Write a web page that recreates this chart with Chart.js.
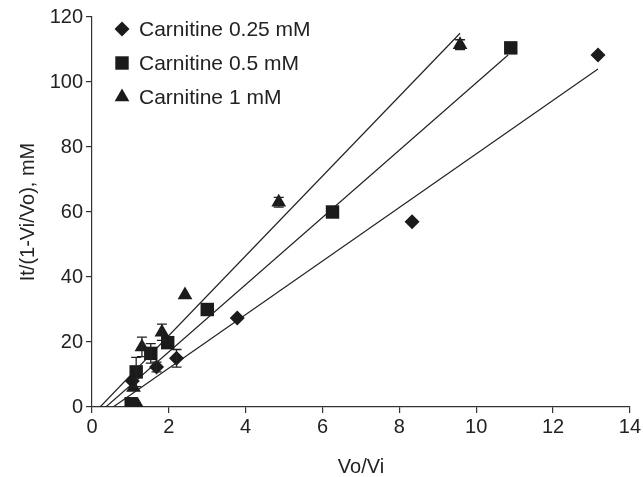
<!DOCTYPE html>
<html><head><meta charset="utf-8">
<script src="https://cdn.jsdelivr.net/npm/chart.js@4/dist/chart.umd.min.js"></script>
<style>html,body{margin:0;padding:0;background:#fff}#wrap{width:643px;height:477px}</style>
</head><body><div id="wrap"><canvas id="c" width="643" height="477"></canvas></div>
<script>
const seriesNames = ["Carnitine 0.25 mM", "Carnitine 0.5 mM", "Carnitine 1 mM"];
const diaX = [1.05, 1.68, 2.2, 3.78, 8.33, 13.17];
const diaY = [8, 12.3, 15, 27.4, 57, 108.3];
const diaErr = [0, 1.5, 2.7, 0, 0, 0];
const sqX = [1.02, 1.15, 1.53, 1.97, 3.0, 6.26, 10.9];
const sqY = [1, 10.8, 16.5, 19.8, 30, 60, 110.5];
const sqErr = [0, 4.5, 3, 0, 0, 0, 0];
const triX = [1.2, 1.08, 1.3, 1.82, 2.42, 4.86, 9.58];
const triY = [0.3, 6, 18.5, 23, 34.5, 63, 111.5];
const triErr = [0, 0, 3, 2.5, 0, 1.5, 1.5];
const fitDiaX = [0.55, 13.17], fitDiaY = [0, 104];
const fitSqX = [0.36, 10.83], fitSqY = [0, 108.3];
const fitTriX = [0.21, 9.58], fitTriY = [0, 115];
const xTicks = [0, 2, 4, 6, 8, 10, 12, 14];
const yTicks = [0, 20, 40, 60, 80, 100, 120];

const pts = (xs, ys) => xs.map((x, i) => ({x, y: ys[i]}));
const ink = '#1b1b1b';
const FONT = '"Liberation Sans", Arial, sans-serif';
const styles = [
  {pointStyle: 'rectRot', radius: 7.5},
  {pointStyle: 'rect', radius: 9.5},
  {pointStyle: 'triangle', radius: 8.5}
];
const errs = [diaErr, sqErr, triErr];

function lineDs(xs, ys) {
  return {type: 'line', data: pts(xs, ys), borderColor: '#222', borderWidth: 1.2,
    pointRadius: 0, fill: false, showLine: true, order: 5};
}
function scatDs(i, xs, ys) {
  return {type: 'scatter', label: seriesNames[i], data: pts(xs, ys),
    pointStyle: styles[i].pointStyle, pointRadius: styles[i].radius, pointHoverRadius: styles[i].radius,
    backgroundColor: ink, borderColor: ink, borderWidth: 0, errIdx: i, order: 1};
}

const errPlugin = {
  id: 'errbars',
  afterDatasetsDraw(chart) {
    const ctx = chart.ctx, xs = chart.scales.x, ys = chart.scales.y;
    ctx.save(); ctx.strokeStyle = '#222'; ctx.lineWidth = 1.3;
    chart.data.datasets.forEach(ds => {
      if (ds.errIdx === undefined) return;
      const e = errs[ds.errIdx];
      ds.data.forEach((p, j) => {
        if (!e[j]) return;
        const px = xs.getPixelForValue(p.x);
        const t = ys.getPixelForValue(p.y + e[j]), b = ys.getPixelForValue(p.y - e[j]);
        ctx.beginPath(); ctx.moveTo(px, t); ctx.lineTo(px, b);
        ctx.moveTo(px - 5, t); ctx.lineTo(px + 5, t);
        ctx.moveTo(px - 5, b); ctx.lineTo(px + 5, b); ctx.stroke();
      });
    });
    ctx.restore();
  }
};
const legendPlugin = {
  id: 'mylegend',
  afterDraw(chart) {
    const ctx = chart.ctx;
    ctx.save();
    ctx.font = '21px ' + FONT;
    ctx.textBaseline = 'middle'; ctx.textAlign = 'left';
    seriesNames.forEach((n, i) => {
      const y = 29 + i * 34;
      ctx.fillStyle = ink; ctx.strokeStyle = ink;
      Chart.helpers.drawPoint(ctx, {pointStyle: styles[i].pointStyle, radius: styles[i].radius, borderWidth: 0}, 122, y);
      ctx.fillStyle = '#222';
      ctx.fillText(n, 139, y + 1);
    });
    ctx.restore();
  }
};

new Chart(document.getElementById('c'), {
  data: {datasets: [
    lineDs(fitDiaX, fitDiaY), lineDs(fitSqX, fitSqY), lineDs(fitTriX, fitTriY),
    scatDs(0, diaX, diaY), scatDs(1, sqX, sqY), scatDs(2, triX, triY)
  ]},
  plugins: [errPlugin, legendPlugin],
  options: {
    responsive: false, animation: false, devicePixelRatio: 1,
    layout: {padding: {left: 0, right: 12, top: 17, bottom: 0}},
    plugins: {legend: {display: false}, tooltip: {enabled: false}},
    scales: {
      x: {type: 'linear', min: 0, max: 14,
        afterBuildTicks: s => { s.ticks = xTicks.map(v => ({value: v})); },
        afterFit: s => { s.height = 70; },
        grid: {drawOnChartArea: false, color: '#333', tickLength: 6, lineWidth: 1.2},
        border: {color: '#333', width: 1.2},
        ticks: {color: '#222', font: {size: 20, family: FONT}, padding: 2, maxRotation: 0},
        title: {display: true, text: 'Vo/Vi', color: '#222', font: {size: 20, family: FONT}, padding: {top: 0, bottom: -2}}
      },
      y: {type: 'linear', min: 0, max: 120,
        afterBuildTicks: s => { s.ticks = yTicks.map(v => ({value: v})); },
        afterFit: s => { s.width = 92; },
        grid: {drawOnChartArea: false, color: '#333', tickLength: 6, lineWidth: 1.2},
        border: {color: '#333', width: 1.2},
        ticks: {color: '#222', font: {size: 20, family: FONT}, padding: 3},
        title: {display: true, text: 'It/(1-Vi/Vo), mM', color: '#222', font: {size: 20, family: FONT}, padding: {top: 16, bottom: 0}}
      }
    }
  }
});
</script></body></html>
